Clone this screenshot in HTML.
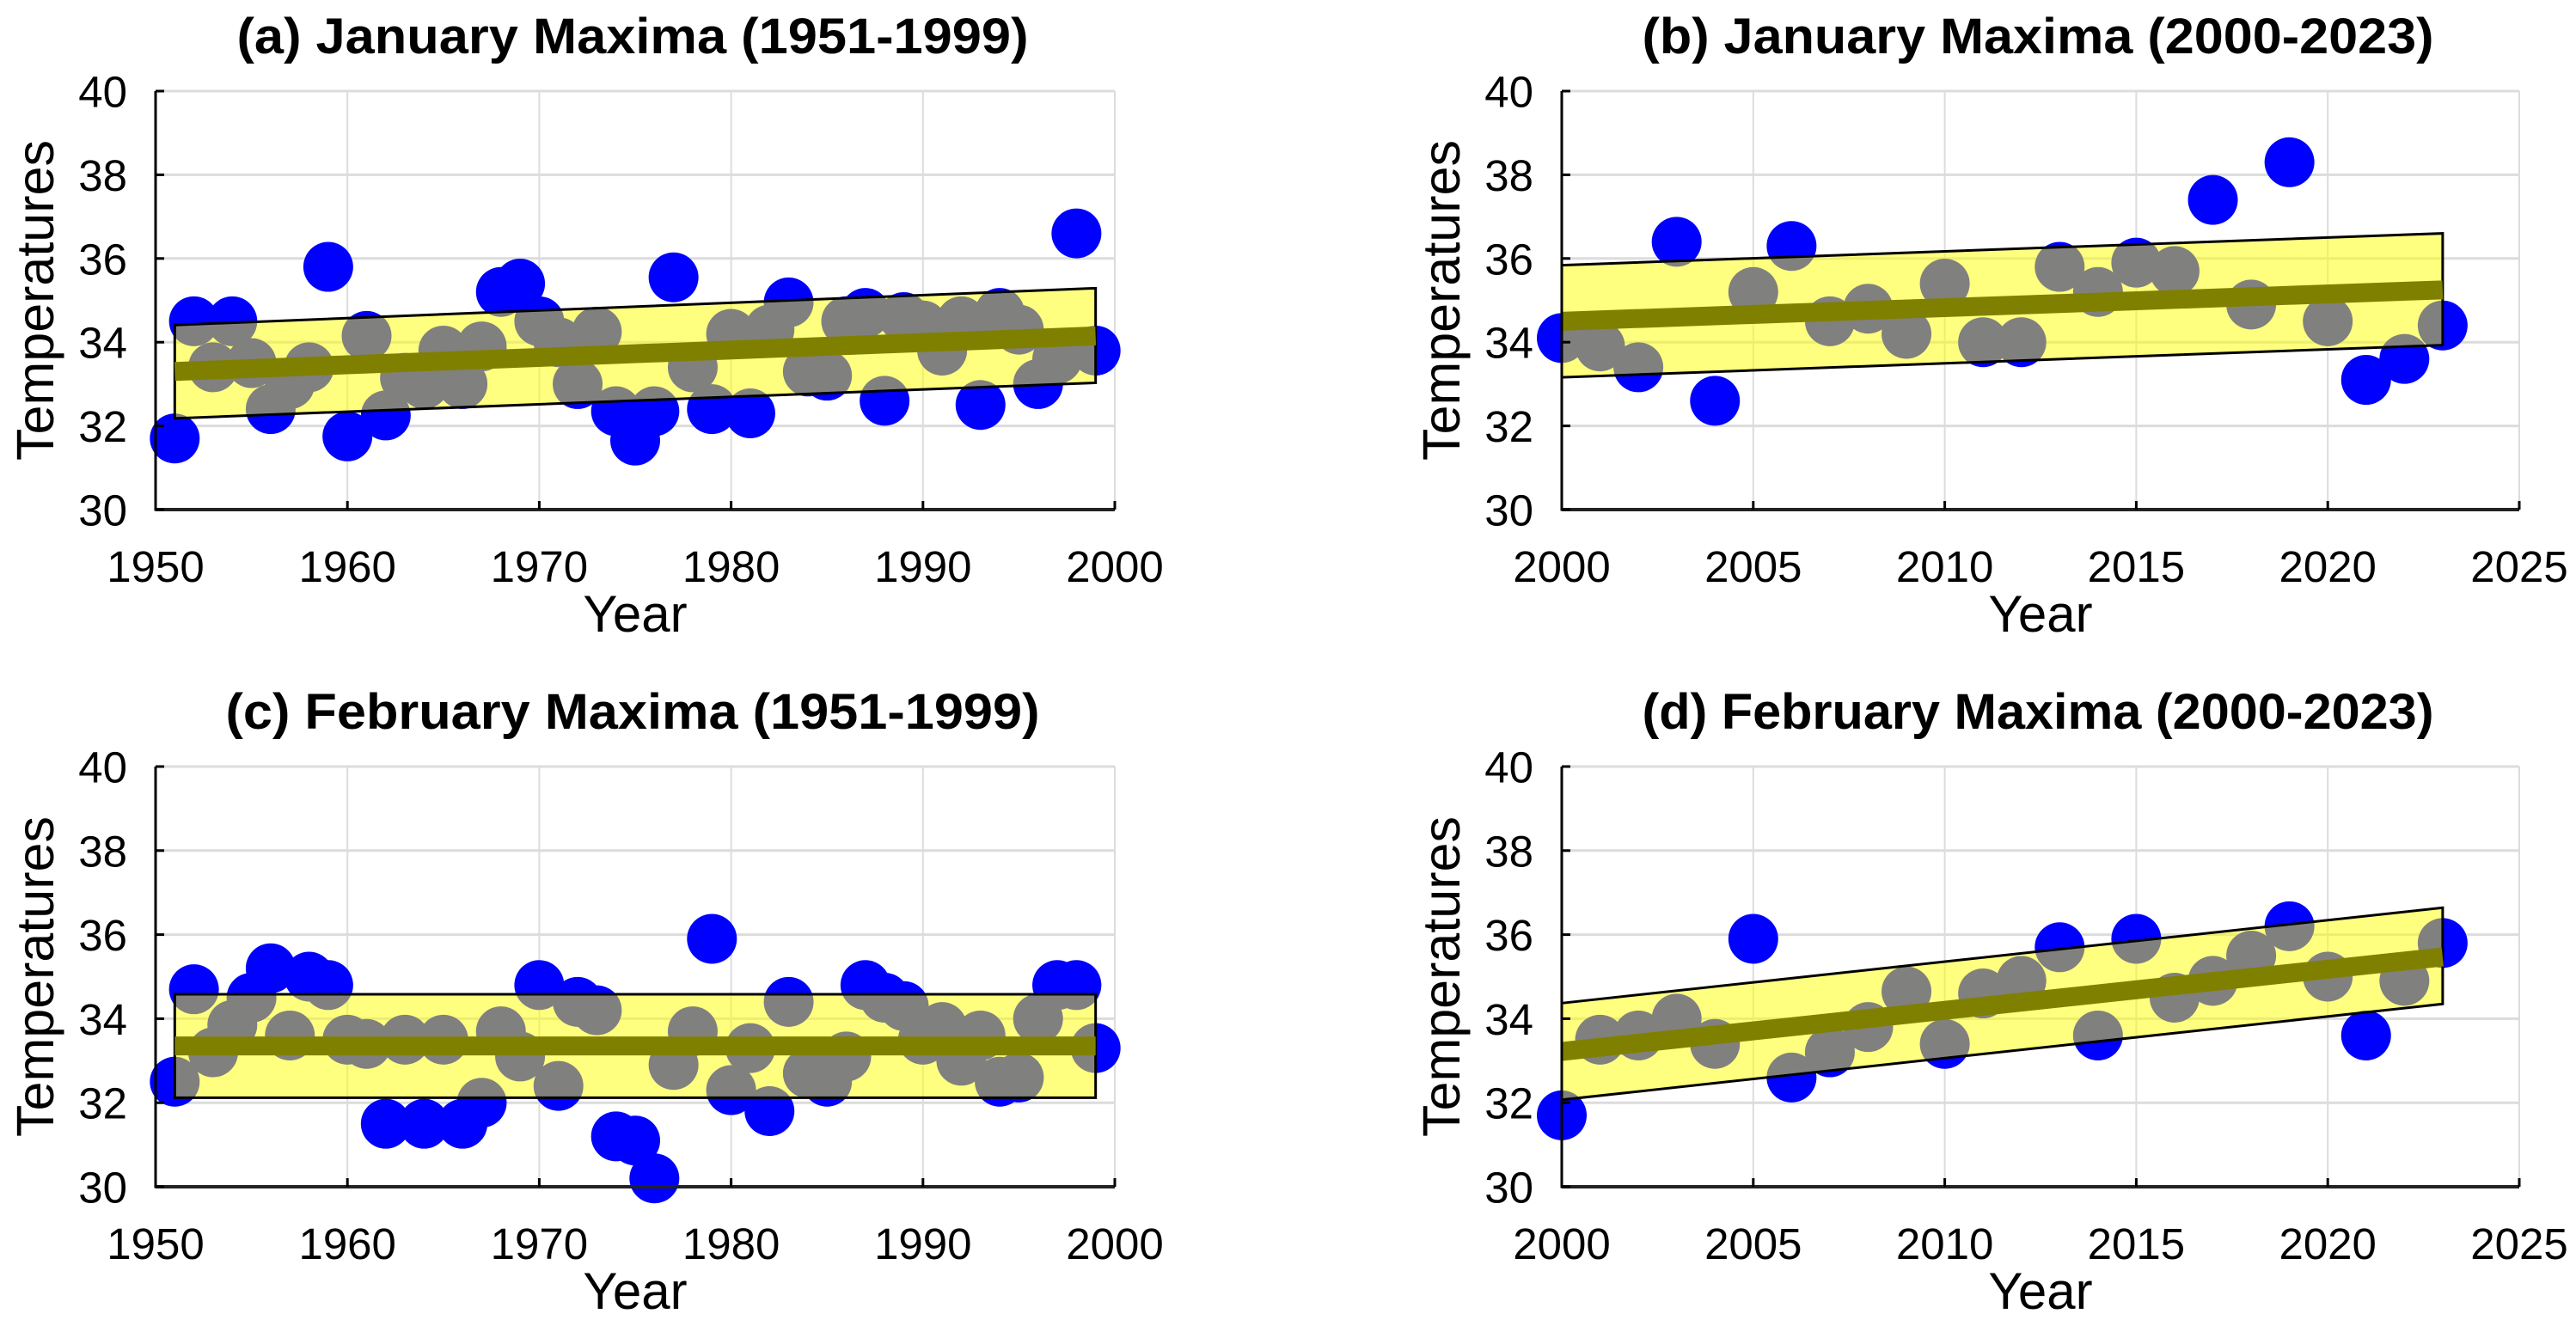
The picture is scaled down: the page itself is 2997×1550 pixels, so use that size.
<!DOCTYPE html>
<html><head><meta charset="utf-8"><style>
html,body{margin:0;padding:0;background:#fff;}
svg{display:block;font-family:"Liberation Sans",Arial,sans-serif;}
</style></head><body>
<svg id="fig" width="2997" height="1550" viewBox="0 0 2997 1550" xmlns="http://www.w3.org/2000/svg"></svg>
<script>
// ---- data ----
const yearsA = [1951,1952,1953,1954,1955,1956,1957,1958,1959,1960,1961,1962,1963,1964,1965,1966,1967,1968,1969,1970,1971,1972,1973,1974,1975,1976,1977,1978,1979,1980,1981,1982,1983,1984,1985,1986,1987,1988,1989,1990,1991,1992,1993,1994,1995,1996,1997,1998,1999];
const valuesA = [31.7,34.5,33.4,34.5,33.5,32.4,33.0,33.4,35.8,31.75,34.15,32.25,33.15,33.0,33.8,33.0,33.9,35.2,35.4,34.5,34.0,33.0,34.25,32.35,31.65,32.35,35.55,33.4,32.4,34.2,32.3,34.3,34.95,33.3,33.2,34.5,34.7,32.6,34.6,34.4,33.8,34.5,32.5,34.7,34.3,33.0,33.6,36.6,33.8];
const bandA = {x:[1951,1999], upper:[34.41,35.29], lower:[32.18,33.03], trend:[33.30,34.15]};

const yearsB = [2000,2001,2002,2003,2004,2005,2006,2007,2008,2009,2010,2011,2012,2013,2014,2015,2016,2017,2018,2019,2020,2021,2022,2023];
const valuesB = [34.1,33.9,33.4,36.4,32.6,35.2,36.3,34.5,34.8,34.2,35.4,34.0,34.0,35.8,35.2,35.9,35.7,37.4,34.9,38.3,34.5,33.1,33.6,34.4];
const bandB = {x:[2000,2023], upper:[35.84,36.6], lower:[33.16,33.93], trend:[34.5,35.25]};

const yearsC = yearsA;
const valuesC = [32.5,34.7,33.2,33.85,34.5,35.2,33.6,35.0,34.8,33.5,33.4,31.5,33.5,31.5,33.5,31.5,32.0,33.7,33.1,34.8,32.4,34.4,34.2,31.2,31.1,30.2,32.9,33.7,35.9,32.3,33.3,31.8,34.4,32.7,32.5,33.1,34.8,34.5,34.3,33.5,33.8,33.0,33.6,32.5,32.6,34.0,34.8,34.8,33.3];
const bandC = {x:[1951,1999], upper:[34.58,34.58], lower:[32.12,32.12], trend:[33.35,33.35]};

const yearsD = yearsB;
const valuesD = [31.7,33.5,33.6,34.0,33.4,35.9,32.6,33.2,33.8,34.65,33.4,34.6,34.9,35.7,33.6,35.9,34.5,34.9,35.5,36.2,35.0,33.6,34.9,35.8];
const bandD = {x:[2000,2023], upper:[34.37,36.64], lower:[32.07,34.35], trend:[33.22,35.47]};

const yTicks = [30,32,34,36,38,40];
const xTicksLeft = [1950,1960,1970,1980,1990,2000];
const xTicksRight = [2000,2005,2010,2015,2020,2025];
const titles = ["(a) January Maxima (1951-1999)","(b) January Maxima (2000-2023)","(c) February Maxima (1951-1999)","(d) February Maxima (2000-2023)"];

const NS = "http://www.w3.org/2000/svg";
const svg = document.getElementById('fig');
function mk(tag, attrs, parent){
  const e = document.createElementNS(NS, tag);
  for (const k in attrs) e.setAttribute(k, attrs[k]);
  (parent||svg).appendChild(e);
  return e;
}

const panels = [
  {id:'a', x0:181, x1:1297, yTop:106, yBot:593, xmin:1950, xmax:2000, xt:xTicksLeft, yrs:yearsA, vals:valuesA, band:bandA, title:titles[0]},
  {id:'b', x0:1817, x1:2931, yTop:106, yBot:593, xmin:2000, xmax:2025, xt:xTicksRight, yrs:yearsB, vals:valuesB, band:bandB, title:titles[1]},
  {id:'c', x0:181, x1:1297, yTop:892, yBot:1381, xmin:1950, xmax:2000, xt:xTicksLeft, yrs:yearsC, vals:valuesC, band:bandC, title:titles[2]},
  {id:'d', x0:1817, x1:2931, yTop:892, yBot:1381, xmin:2000, xmax:2025, xt:xTicksRight, yrs:yearsD, vals:valuesD, band:bandD, title:titles[3]}
];

panels.forEach(p=>{
  const g = mk('g', {});
  
  
  const sx = v => p.x0 + (v - p.xmin) / (p.xmax - p.xmin) * (p.x1 - p.x0);
  const sy = v => p.yBot - (v - 30) / 10 * (p.yBot - p.yTop);

  // grid
  const grid = mk('g', {}, g);
  
  
  p.xt.forEach(t=>{
    if (t !== p.xmin) mk('line', {x1:sx(t), x2:sx(t), y1:p.yTop, y2:p.yBot, stroke:'#dcdcdc', 'stroke-width':2}, grid);
  });
  yTicks.forEach(t=>{
    if (t !== 30) mk('line', {x1:p.x0, x2:p.x1, y1:sy(t), y2:sy(t), stroke:'#dcdcdc', 'stroke-width':3}, grid);
  });

  // points
  const pts = mk('g', {}, g);
  
  
  p.yrs.forEach((yr,i)=>{
    const c = mk('circle', {cx:sx(yr), cy:sy(p.vals[i]), r:29, fill:'#0000ff'}, pts);
    
    
  });

  // band
  const b = p.band;
  const poly = mk('polygon', {
    points: `${sx(b.x[0])},${sy(b.upper[0])} ${sx(b.x[1])},${sy(b.upper[1])} ${sx(b.x[1])},${sy(b.lower[1])} ${sx(b.x[0])},${sy(b.lower[0])}`,
    fill:'#ffff00', 'fill-opacity':0.5, stroke:'#000', 'stroke-width':3
  }, g);
  
  

  const tl = mk('line', {x1:sx(b.x[0]), y1:sy(b.trend[0]), x2:sx(b.x[1]), y2:sy(b.trend[1]), stroke:'#808000', 'stroke-width':22}, g);
  
  

  // axes
  const ax = mk('g', {}, g);
  
  
  mk('line', {x1:p.x0, x2:p.x0, y1:p.yTop, y2:p.yBot+1.5, stroke:'#000', 'stroke-width':3}, ax);
  mk('line', {x1:p.x0, x2:p.x1, y1:p.yBot, y2:p.yBot, stroke:'#222', 'stroke-width':4}, ax);
  yTicks.forEach(t=>{
    mk('line', {x1:p.x0, x2:p.x0+10, y1:sy(t), y2:sy(t), stroke:'#000', 'stroke-width':3}, ax);
    const tx = mk('text', {x:p.x0-33, y:sy(t)+18.5, 'font-size':51, 'text-anchor':'end', fill:'#000'}, ax);
    tx.textContent = t;
    
    
  });
  p.xt.forEach(t=>{
    mk('line', {x1:sx(t), x2:sx(t), y1:p.yBot, y2:p.yBot-10, stroke:'#000', 'stroke-width':3}, ax);
    const tx = mk('text', {x:sx(t), y:p.yBot+84, 'font-size':51, 'text-anchor':'middle', fill:'#000'}, ax);
    tx.textContent = t;
    
    
  });

  const xl = mk('text', {x:(p.x0+p.x1)/2, y:p.yBot+142, 'font-size':60, 'text-anchor':'middle', fill:'#000'}, g);
  xl.textContent = 'Year';
  
  

  const ycx = p.x0 - 119, ycy = (p.yTop + p.yBot)/2;
  const yl = mk('text', {x:ycx, y:ycy, 'font-size':61, 'text-anchor':'middle', fill:'#000', transform:`rotate(-90 ${ycx} ${ycy})`}, g);
  yl.textContent = 'Temperatures';
  
  

  const tt = mk('text', {x:(p.x0+p.x1)/2 - 3, y:p.yTop - 44, 'font-size':58, 'font-weight':'bold', 'text-anchor':'middle', fill:'#000', textLength:(p.id==='c'?947:921), lengthAdjust:'spacingAndGlyphs'}, g);
  tt.textContent = p.title;
  
  
});
</script>
</body></html>
